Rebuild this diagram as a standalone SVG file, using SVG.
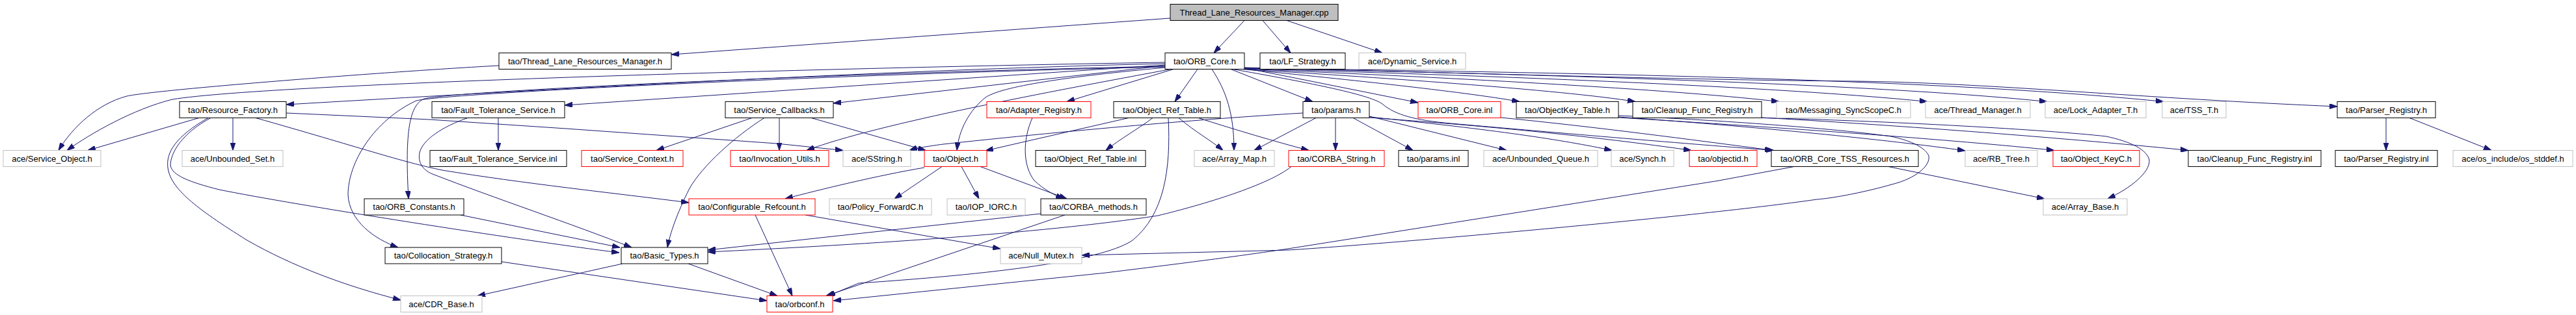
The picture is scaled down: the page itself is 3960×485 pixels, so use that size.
<svg xmlns="http://www.w3.org/2000/svg" width="3960" height="485" viewBox="0 0 3960 485">
<style>
.n rect{fill:#fff;stroke-width:1}
.k rect{stroke:#000}
.r rect{stroke:#f00}
.g rect{stroke:#bfbfbf}
.root rect{fill:#bfbfbf;stroke:#000}
text{font-family:"Liberation Sans",Arial,sans-serif;font-size:13px;text-anchor:middle;fill:#000}
#edges path{fill:none;stroke:#191970;stroke-width:1;marker-end:url(#ah)}
</style>
<defs>
<marker id="ah" markerWidth="12" markerHeight="8" refX="12" refY="4" orient="auto" markerUnits="userSpaceOnUse"><path d="M0,0 L12,4 L0,8 z" fill="#191970" stroke="#191970"/></marker>
</defs>
<rect x="0" y="0" width="3960" height="485" fill="#fff"/>
<g id="edges">
<path d="M1799,28 L1032,84"/>
<path d="M1913,31.5 L1866,81.5"/>
<path d="M1941,31.5 L1984,81.5"/>
<path d="M1978,31.5 L2125,81.5"/>
<path d="M767,101 C600,110 240,138 195,148 C150,160 112,195 90,231.5"/>
<path d="M1791,96 C1300,104 420,128 265,153 C205,168 140,205 103,231.5"/>
<path d="M1791,98 C1350,108 800,140 440,161"/>
<path d="M1791,100 L868,162"/>
<path d="M1791,101 L1281,159"/>
<path d="M1791,102 C1300,112 700,140 652,152 C630,162 622,200 628,306"/>
<path d="M1791,103 C1300,114 690,143 640,155 C575,185 535,250 535,300 C537,340 575,368 612,381"/>
<path d="M1800,106.5 C1620,140 1350,190 1240,231.5"/>
<path d="M1791,104 C1640,118 1540,133 1515,150 C1490,170 1474,200 1471,231.5"/>
<path d="M1804,106.5 L1640,156.5"/>
<path d="M1841,106.5 L1806,156.5"/>
<path d="M1863,106.5 C1885,140 1897,175 1897,231.5"/>
<path d="M1892,106.5 L2018,156.5"/>
<path d="M1913,104.5 L2180,158"/>
<path d="M1910,106.5 C2050,120 2250,141 2336,156.5"/>
<path d="M1911,106.5 C2100,118 2400,138 2514,156.5"/>
<path d="M1912,106 C2150,116 2550,135 2735,156.5"/>
<path d="M1913,105.5 C2200,114 2700,130 2963,156.5"/>
<path d="M1913,105 C2250,112 2850,126 3147,156.5"/>
<path d="M1913,104.5 C2300,111 2950,118 3326,156.5"/>
<path d="M1913,104 C2300,114 2650,124 2850,125 C3050,127 3300,152 3593,164"/>
<path d="M1895,106.5 C2000,125 2105,145 2125,160 C2145,177 2175,185 2230,190 C2400,205 2600,222 2727,231.5"/>
<path d="M306,181.5 L135,231.5"/>
<path d="M358,181.5 L358,231.5"/>
<path d="M324,181.5 C280,205 262,235 262,255 C265,270 290,280 337,292 C450,315 800,370 952,389"/>
<path d="M320,181.5 C270,210 255,235 258,258 C262,290 300,320 380,370 C450,410 530,440 616,462"/>
<path d="M393,181.5 C550,226 620,250 680,262 C800,282 950,298 1059,312"/>
<path d="M440,174 L660,184 L870,198 L1194,221 L1296,231.5"/>
<path d="M766,181.5 L766,231.5"/>
<path d="M719,181.5 C680,195 650,215 645,235 C642,250 650,262 665,268 C760,305 880,345 971,381"/>
<path d="M1156,181.5 L1009,231.5"/>
<path d="M1198,181.5 L1198,231.5"/>
<path d="M1175,181.5 C1130,210 1080,255 1060,290 C1040,330 1030,360 1026,381"/>
<path d="M1247,181.5 L1423,231.5"/>
<path d="M1587,181.5 C1572,215 1572,255 1590,278 C1605,292 1620,300 1635,306"/>
<path d="M1772,181.5 C1755,195 1720,215 1700,231.5"/>
<path d="M1812,181.5 C1840,205 1860,215 1880,231.5"/>
<path d="M1735,181.5 L1515,232"/>
<path d="M1842,181.5 C1900,200 1960,218 2012,231.5"/>
<path d="M1796,181.5 C1800,260 1790,330 1741,370 C1700,398 1560,420 1320,436 L1272,456"/>
<path d="M2003,174 C1900,180 1700,195 1450,222 C1420,226 1405,229 1398,231.5"/>
<path d="M2023,181.5 L1928,231.5"/>
<path d="M2053,181.5 L2053,231.5"/>
<path d="M2080,181.5 L2172,231.5"/>
<path d="M2105,179 L2316,231.5"/>
<path d="M2105,180 C2300,200 2400,215 2478,231.5"/>
<path d="M2105,181 C2300,195 2450,210 2600,231.5"/>
<path d="M1985,256.5 C1950,285 1850,315 1780,332 C1600,360 1300,378 1088,388"/>
<path d="M1600,329 L1088,385"/>
<path d="M1637,331 L1270,455.5"/>
<path d="M1448,256.5 L1375,306"/>
<path d="M1478,256.5 L1505,306"/>
<path d="M1507,256.5 L1640,306"/>
<path d="M1421,258 C1350,270 1260,292 1207,306"/>
<path d="M1161,331 L1218,455.5"/>
<path d="M1238,331 L1538,383"/>
<path d="M708,331 L953,381"/>
<path d="M771,403 L1179,463"/>
<path d="M957,406 L734,455.5"/>
<path d="M1058,406 L1195,455.5"/>
<path d="M2758,256.5 L2640,278.5 L1980,383 C1880,398 1780,410 1700,420 L1281,463"/>
<path d="M2903,256.5 L3143,306"/>
<path d="M2488,178 C2600,183 2800,195 2907,210 C2940,217 2960,228 2965,240 C2968,255 2945,275 2908,284 C2870,295 2820,305 2793,307 C2600,335 2100,378 1980,385 L1663,393"/>
<path d="M2488,180 C2700,195 2900,215 3021,232"/>
<path d="M2488,181 C2750,197 3000,215 3158,231.5"/>
<path d="M2708,181 C2900,192 3150,210 3364,231.5"/>
<path d="M2708,181.5 C2900,186 3150,200 3238,210 C3275,218 3300,230 3304,246 C3306,265 3275,290 3240,306"/>
<path d="M2307,181 C2450,195 2600,215 2725,231.5"/>
<path d="M3668,181.5 L3668,231.5"/>
<path d="M3704,181.5 L3830,231.5"/>
</g>
<g id="n_cpp" class="n root"><rect x="1799" y="6.5" width="258" height="25"/><text x="1928" y="23.5">Thread_Lane_Resources_Manager.cpp</text></g>
<g id="n_tlrm_h" class="n k"><rect x="767" y="81.5" width="265" height="25"/><text x="899.5" y="98.5">tao/Thread_Lane_Resources_Manager.h</text></g>
<g id="n_orb_core_h" class="n k"><rect x="1791" y="81.5" width="122" height="25"/><text x="1852" y="98.5">tao/ORB_Core.h</text></g>
<g id="n_lf_strategy" class="n k"><rect x="1937" y="81.5" width="131" height="25"/><text x="2002.5" y="98.5">tao/LF_Strategy.h</text></g>
<g id="n_dynamic_service" class="n g"><rect x="2089" y="81.5" width="164" height="25"/><text x="2171" y="98.5">ace/Dynamic_Service.h</text></g>
<g id="n_resource_factory" class="n k"><rect x="276" y="156.5" width="164" height="25"/><text x="358" y="173.5">tao/Resource_Factory.h</text></g>
<g id="n_ft_service_h" class="n k"><rect x="664" y="156.5" width="204" height="25"/><text x="766" y="173.5">tao/Fault_Tolerance_Service.h</text></g>
<g id="n_service_callbacks" class="n k"><rect x="1115" y="156.5" width="166" height="25"/><text x="1198" y="173.5">tao/Service_Callbacks.h</text></g>
<g id="n_adapter_registry" class="n r"><rect x="1517" y="156.5" width="160" height="25"/><text x="1597" y="173.5">tao/Adapter_Registry.h</text></g>
<g id="n_object_ref_table_h" class="n k"><rect x="1712" y="156.5" width="164" height="25"/><text x="1794" y="173.5">tao/Object_Ref_Table.h</text></g>
<g id="n_params_h" class="n k"><rect x="2003" y="156.5" width="102" height="25"/><text x="2054" y="173.5">tao/params.h</text></g>
<g id="n_orb_core_inl" class="n r"><rect x="2180" y="156.5" width="127" height="25"/><text x="2243.5" y="173.5">tao/ORB_Core.inl</text></g>
<g id="n_objectkey_table" class="n k"><rect x="2331" y="156.5" width="157" height="25"/><text x="2409.5" y="173.5">tao/ObjectKey_Table.h</text></g>
<g id="n_cleanup_h" class="n k"><rect x="2510" y="156.5" width="198" height="25"/><text x="2609" y="173.5">tao/Cleanup_Func_Registry.h</text></g>
<g id="n_messaging" class="n g"><rect x="2731" y="156.5" width="206" height="25"/><text x="2834" y="173.5">tao/Messaging_SyncScopeC.h</text></g>
<g id="n_thread_manager" class="n g"><rect x="2960" y="156.5" width="161" height="25"/><text x="3040.5" y="173.5">ace/Thread_Manager.h</text></g>
<g id="n_lock_adapter" class="n g"><rect x="3144" y="156.5" width="155" height="25"/><text x="3221.5" y="173.5">ace/Lock_Adapter_T.h</text></g>
<g id="n_tss_t" class="n g"><rect x="3324" y="156.5" width="98" height="25"/><text x="3373" y="173.5">ace/TSS_T.h</text></g>
<g id="n_parser_registry_h" class="n k"><rect x="3593" y="156.5" width="151" height="25"/><text x="3668.5" y="173.5">tao/Parser_Registry.h</text></g>
<g id="n_service_object" class="n g"><rect x="5" y="231.5" width="150" height="25"/><text x="80" y="248.5">ace/Service_Object.h</text></g>
<g id="n_unbounded_set" class="n g"><rect x="280" y="231.5" width="155" height="25"/><text x="357.5" y="248.5">ace/Unbounded_Set.h</text></g>
<g id="n_ft_service_inl" class="n k"><rect x="661" y="231.5" width="210" height="25"/><text x="766" y="248.5">tao/Fault_Tolerance_Service.inl</text></g>
<g id="n_service_context" class="n r"><rect x="894" y="231.5" width="156" height="25"/><text x="972" y="248.5">tao/Service_Context.h</text></g>
<g id="n_invocation_utils" class="n r"><rect x="1123" y="231.5" width="151" height="25"/><text x="1198.5" y="248.5">tao/Invocation_Utils.h</text></g>
<g id="n_sstring" class="n g"><rect x="1296" y="231.5" width="104" height="25"/><text x="1348" y="248.5">ace/SString.h</text></g>
<g id="n_object_h" class="n r"><rect x="1421" y="231.5" width="96" height="25"/><text x="1469" y="248.5">tao/Object.h</text></g>
<g id="n_object_ref_table_inl" class="n k"><rect x="1592" y="231.5" width="169" height="25"/><text x="1676.5" y="248.5">tao/Object_Ref_Table.inl</text></g>
<g id="n_array_map" class="n g"><rect x="1836" y="231.5" width="123" height="25"/><text x="1897.5" y="248.5">ace/Array_Map.h</text></g>
<g id="n_corba_string" class="n r"><rect x="1981" y="231.5" width="147" height="25"/><text x="2054.5" y="248.5">tao/CORBA_String.h</text></g>
<g id="n_params_inl" class="n k"><rect x="2150" y="231.5" width="107" height="25"/><text x="2203.5" y="248.5">tao/params.inl</text></g>
<g id="n_unbounded_queue" class="n g"><rect x="2281" y="231.5" width="175" height="25"/><text x="2368.5" y="248.5">ace/Unbounded_Queue.h</text></g>
<g id="n_synch" class="n g"><rect x="2477" y="231.5" width="96" height="25"/><text x="2525" y="248.5">ace/Synch.h</text></g>
<g id="n_objectid" class="n r"><rect x="2597" y="231.5" width="104" height="25"/><text x="2649" y="248.5">tao/objectid.h</text></g>
<g id="n_orb_core_tss" class="n k"><rect x="2723" y="231.5" width="226" height="25"/><text x="2836" y="248.5">tao/ORB_Core_TSS_Resources.h</text></g>
<g id="n_rb_tree" class="n g"><rect x="3021" y="231.5" width="111" height="25"/><text x="3076.5" y="248.5">ace/RB_Tree.h</text></g>
<g id="n_object_keyc" class="n r"><rect x="3156" y="231.5" width="133" height="25"/><text x="3222.5" y="248.5">tao/Object_KeyC.h</text></g>
<g id="n_cleanup_inl" class="n k"><rect x="3364" y="231.5" width="204" height="25"/><text x="3466" y="248.5">tao/Cleanup_Func_Registry.inl</text></g>
<g id="n_parser_registry_inl" class="n k"><rect x="3590" y="231.5" width="157" height="25"/><text x="3668.5" y="248.5">tao/Parser_Registry.inl</text></g>
<g id="n_os_stddef" class="n g"><rect x="3771" y="231.5" width="184" height="25"/><text x="3863" y="248.5">ace/os_include/os_stddef.h</text></g>
<g id="n_orb_constants" class="n k"><rect x="560" y="306" width="153" height="25"/><text x="636.5" y="323">tao/ORB_Constants.h</text></g>
<g id="n_configurable_refcount" class="n r"><rect x="1059" y="306" width="194" height="25"/><text x="1156" y="323">tao/Configurable_Refcount.h</text></g>
<g id="n_policy_forwardc" class="n g"><rect x="1275" y="306" width="157" height="25"/><text x="1353.5" y="323">tao/Policy_ForwardC.h</text></g>
<g id="n_iop_iorc" class="n g"><rect x="1456" y="306" width="120" height="25"/><text x="1516" y="323">tao/IOP_IORC.h</text></g>
<g id="n_corba_methods" class="n k"><rect x="1600" y="306" width="162" height="25"/><text x="1681" y="323">tao/CORBA_methods.h</text></g>
<g id="n_array_base" class="n g"><rect x="3141" y="306" width="129" height="25"/><text x="3205.5" y="323">ace/Array_Base.h</text></g>
<g id="n_collocation_strategy" class="n k"><rect x="592" y="381" width="179" height="25"/><text x="681.5" y="398">tao/Collocation_Strategy.h</text></g>
<g id="n_basic_types" class="n k"><rect x="955" y="381" width="133" height="25"/><text x="1021.5" y="398">tao/Basic_Types.h</text></g>
<g id="n_null_mutex" class="n g"><rect x="1538" y="381" width="125" height="25"/><text x="1600.5" y="398">ace/Null_Mutex.h</text></g>
<g id="n_cdr_base" class="n g"><rect x="616" y="455.5" width="125" height="25"/><text x="678.5" y="472.5">ace/CDR_Base.h</text></g>
<g id="n_orbconf" class="n r"><rect x="1179" y="455.5" width="101" height="25"/><text x="1229.5" y="472.5">tao/orbconf.h</text></g>
</svg>
